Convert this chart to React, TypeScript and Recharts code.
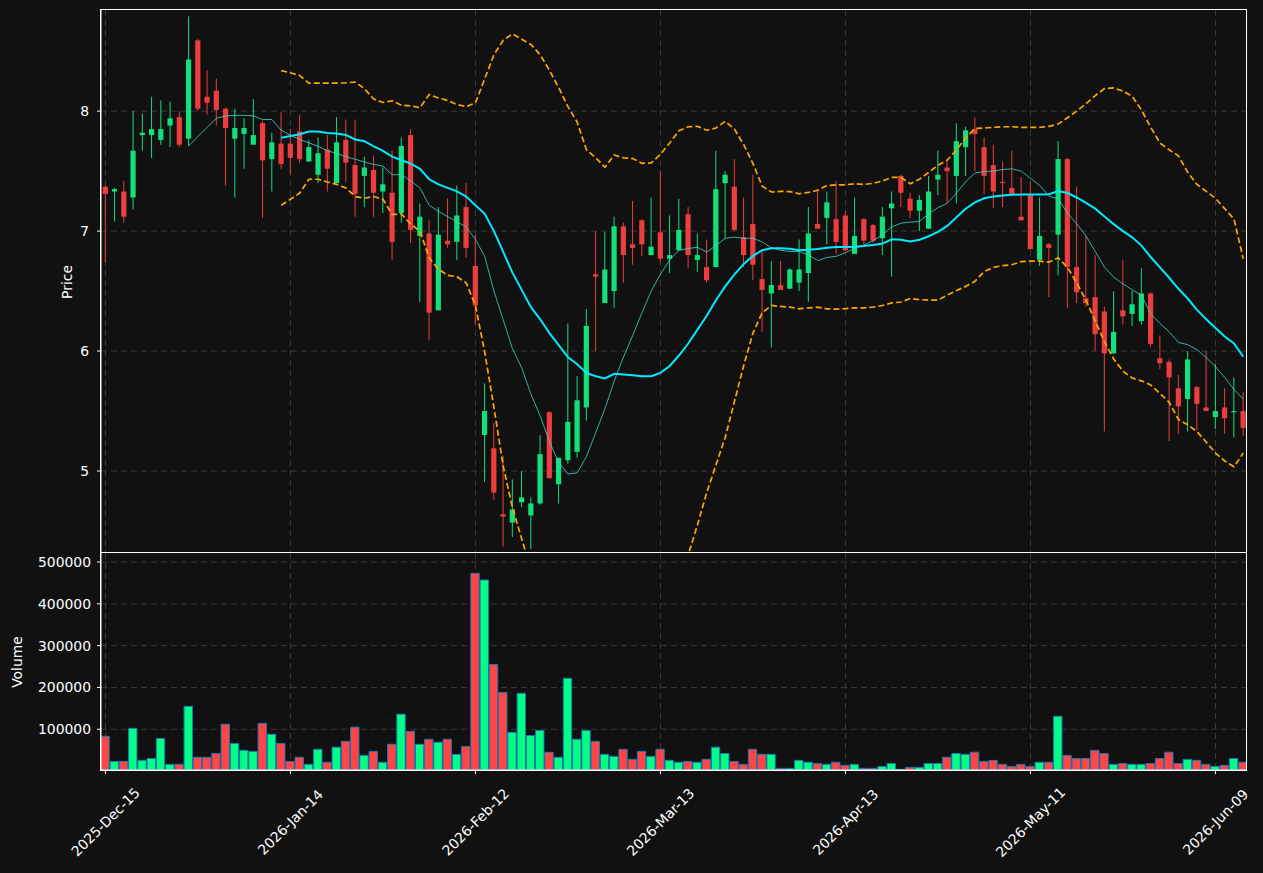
import React from "react";
import { ComposedChart, Bar, Line, XAxis, YAxis, CartesianGrid, Cell } from "recharts";

// x tick positions (trading-day index) and their labels
const tickIdx = [0, 20, 40, 60, 80, 100, 120];
const tickLabels = ["2025-Dec-15", "2026-Jan-14", "2026-Feb-12", "2026-Mar-13", "2026-Apr-13", "2026-May-11", "2026-Jun-09"];
const priceTicks = [5, 6, 7, 8];
const volumeTicks = [100000, 200000, 300000, 400000, 500000];

const opens = [
  7.37, 7.33, 7.33, 7.28, 7.8, 7.8, 7.76, 7.88, 7.95, 7.77,
  8.59, 8.12, 8.17, 8.02, 7.77, 7.81, 7.72, 7.9, 7.6, 7.73,
  7.73, 7.83, 7.58, 7.47, 7.68, 7.4, 7.76, 7.55, 7.46, 7.51,
  7.33, 7.32, 7.15, 7.8, 6.96, 6.98, 6.34, 6.92, 6.91, 7.2,
  6.71, 5.3, 5.19, 4.64, 4.57, 4.74, 4.63, 4.73, 5.49, 4.89,
  5.09, 5.16, 5.53, 6.64, 6.4, 6.5, 7.04, 6.89, 7.09, 6.8,
  6.99, 6.77, 6.84, 7.14, 6.76, 6.7, 6.7, 7.4, 7.37, 6.95,
  7.06, 6.6, 6.48, 6.55, 6.52, 6.57, 6.65, 7.06, 7.11, 7.1,
  7.13, 6.81, 7.1, 7.05, 6.94, 7.19, 7.46, 7.27, 7.17, 7.02,
  7.43, 7.53, 7.46, 7.7, 7.85, 7.7, 7.55, 7.41, 7.36, 7.12,
  7.3, 6.76, 6.89, 6.97, 7.6, 6.7, 6.44, 6.45, 6.33, 5.98,
  6.34, 6.31, 6.25, 6.48, 5.94, 5.91, 5.69, 5.6, 5.7, 5.53,
  5.45, 5.53, 5.49, 5.5,
];
const highs = [
  7.38, 7.36, 7.42, 8.0, 7.98, 8.12, 8.09, 8.08, 8.0, 8.79,
  8.6, 8.34, 8.27, 8.03, 8.02, 7.94, 8.1, 7.92, 7.82, 7.99,
  7.85, 7.97, 7.76, 7.78, 7.8, 7.95, 7.93, 7.93, 7.62, 7.63,
  7.53, 7.67, 7.78, 7.85, 7.23, 7.09, 7.2, 7.27, 7.38, 7.4,
  6.97, 5.73, 5.4, 5.13, 4.93, 5.0, 4.78, 5.3, 5.5, 5.11,
  6.23, 5.79, 6.35, 7.0, 6.99, 7.12, 7.07, 7.25, 7.1, 7.28,
  7.5, 7.13, 7.27, 7.2, 6.98, 6.93, 7.67, 7.5, 7.6, 7.28,
  7.47, 6.83, 6.75, 6.75, 6.69, 6.93, 7.2, 7.35, 7.33, 7.42,
  7.17, 7.28, 7.11, 7.06, 7.2, 7.33, 7.47, 7.32, 7.3, 7.46,
  7.67, 7.6, 7.9, 7.87, 7.95, 7.78, 7.72, 7.58, 7.67, 7.45,
  7.41, 7.28, 6.9, 7.75, 7.61, 7.37, 6.96, 6.8, 6.37, 6.5,
  6.76, 6.5, 6.69, 6.49, 6.13, 5.93, 5.8, 6.0, 5.71, 6.0,
  5.89, 5.69, 5.78, 5.66,
];
const lows = [
  6.74, 7.08, 7.07, 7.18, 7.67, 7.61, 7.72, 7.7, 7.7, 7.71,
  8.0, 7.97, 7.88, 7.38, 7.28, 7.52, 7.72, 7.11, 7.33, 7.52,
  7.47, 7.57, 7.58, 7.4, 7.33, 7.4, 7.41, 7.12, 7.2, 7.12,
  7.15, 6.76, 7.07, 6.9, 6.41, 6.09, 6.34, 6.86, 6.76, 6.78,
  6.22, 4.91, 4.76, 4.37, 4.45, 4.7, 4.35, 4.72, 4.94, 4.73,
  5.06, 5.11, 5.42, 6.0, 6.4, 6.36, 6.57, 6.72, 6.79, 6.8,
  6.74, 6.65, 6.84, 6.69, 6.66, 6.57, 6.7, 6.94, 7.0, 6.7,
  6.59, 6.16, 6.03, 6.51, 6.52, 6.5, 6.41, 7.02, 6.89, 6.81,
  6.84, 6.81, 6.89, 6.9, 6.8, 6.62, 7.2, 7.11, 7.0, 7.02,
  7.3, 7.23, 7.23, 7.46, 7.5, 7.31, 7.19, 7.2, 7.31, 7.09,
  6.85, 6.71, 6.45, 6.63, 6.36, 6.4, 6.37, 6.0, 5.33, 5.98,
  6.22, 6.21, 6.22, 6.03, 5.85, 5.25, 5.31, 5.33, 5.34, 5.5,
  5.35, 5.31, 5.28, 5.29,
];
const closes = [
  7.31, 7.35, 7.12, 7.67, 7.82, 7.85, 7.85, 7.94, 7.72, 8.43,
  8.02, 8.07, 8.01, 7.86, 7.86, 7.86, 7.8, 7.59, 7.74, 7.56,
  7.61, 7.6, 7.7, 7.65, 7.52, 7.74, 7.57, 7.31, 7.53, 7.32,
  7.39, 6.91, 7.71, 7.01, 7.12, 6.32, 6.97, 6.89, 7.13, 6.86,
  6.38, 5.5, 4.82, 4.62, 4.68, 4.78, 4.73, 5.14, 4.94, 5.11,
  5.41, 5.59, 6.21, 6.62, 6.68, 7.04, 6.8, 6.86, 6.89, 6.87,
  6.77, 6.8, 7.01, 6.8, 6.8, 6.59, 7.35, 7.47, 7.01, 6.8,
  6.72, 6.51, 6.55, 6.51, 6.68, 6.68, 6.98, 7.02, 7.24, 6.91,
  6.84, 6.96, 6.92, 6.92, 7.12, 7.23, 7.32, 7.17, 7.26, 7.33,
  7.47, 7.5, 7.75, 7.84, 7.81, 7.46, 7.33, 7.4, 7.31, 7.09,
  6.85, 6.96, 6.86, 7.6, 6.7, 6.49, 6.4, 6.14, 5.98, 6.16,
  6.29, 6.39, 6.48, 6.06, 5.9, 5.78, 5.54, 5.93, 5.56, 5.5,
  5.5, 5.44, 5.5, 5.36,
];
const volumes = [
  83000, 23000, 23000, 102000, 25500, 30000, 78000, 16000, 16000, 155000,
  33000, 33000, 42000, 112000, 66000, 49500, 47000, 114000, 88000, 66000,
  23000, 33000, 16000, 52000, 21000, 57000, 71000, 105000, 37500, 47000,
  21000, 64000, 136000, 95000, 64000, 76000, 69000, 76000, 40000, 59000,
  473000, 457000, 255000, 188000, 92600, 186000, 85000, 97000, 44700, 33000,
  222000, 76000, 97000, 71000, 40000, 35000, 52000, 28000, 47000, 35000,
  52000, 25500, 21000, 23000, 21000, 28000, 57000, 42000, 23000, 16000,
  52000, 40000, 40000, 6400, 6400, 25500, 21000, 18000, 16000, 21000,
  13600, 16000, 6400, 6400, 11000, 18000, 4000, 8800, 8800, 18000,
  18000, 33000, 42000, 40000, 45000, 23000, 25500, 16000, 11000, 16000,
  11000, 21000, 21000, 131000, 37500, 30000, 30000, 49500, 42000, 16000,
  18000, 16000, 16000, 18000, 30000, 45000, 18000, 28000, 25500, 16000,
  11000, 13600, 30000, 21000,
];

// 10-day average (thin line), starts at the 10th session
const ma10: (number | null)[] = [
  null, null, null, null, null, null, null, null, null,
  7.71, 7.79, 7.865, 7.94, 7.96, 7.965, 7.965, 7.96, 7.93, 7.93,
  7.84, 7.8, 7.764, 7.735, 7.706, 7.669, 7.648, 7.62, 7.599, 7.576,
  7.556, 7.542, 7.47, 7.47, 7.418, 7.36, 7.216, 7.164, 7.121, 7.078,
  7.035, 6.93, 6.79, 6.5, 6.26, 6.02, 5.86, 5.64, 5.46, 5.245,
  5.07, 4.975, 4.985, 5.12, 5.32, 5.52, 5.75, 5.95, 6.13, 6.32,
  6.5, 6.64, 6.76, 6.84, 6.855, 6.865, 6.825, 6.88, 6.94, 6.95,
  6.94, 6.94, 6.91, 6.86, 6.84, 6.83, 6.83, 6.8, 6.755, 6.78,
  6.79, 6.82, 6.856, 6.885, 6.92, 6.97, 7.035, 7.066, 7.075, 7.08,
  7.144, 7.196, 7.231, 7.317, 7.412, 7.484, 7.496, 7.5, 7.513, 7.519,
  7.5, 7.44, 7.38, 7.29, 7.27, 7.15, 7.06, 6.96, 6.83, 6.7,
  6.615, 6.56, 6.51, 6.465, 6.31, 6.23, 6.16, 6.072, 6.053, 6.012,
  5.945, 5.87, 5.78, 5.68, 5.6,
];

// 20-day average (thick line) and bollinger bands
const ma20: (number | null)[] = [
  null, null, null, null, null, null, null, null, null, null,
  null, null, null, null, null, null, null, null, null,
  7.778, 7.793, 7.807, 7.83, 7.83, 7.818, 7.813, 7.801, 7.764, 7.749,
  7.706, 7.669, 7.62, 7.591, 7.562, 7.519, 7.432, 7.389, 7.36, 7.331,
  7.288, 7.215, 7.144, 7.0, 6.827, 6.654, 6.51, 6.366, 6.265, 6.15,
  6.049, 5.948, 5.89, 5.818, 5.79, 5.772, 5.81, 5.804, 5.798, 5.79,
  5.79, 5.818, 5.876, 5.963, 6.063, 6.179, 6.294, 6.424, 6.539, 6.64,
  6.726, 6.793, 6.841, 6.856, 6.856, 6.853, 6.841, 6.844, 6.85, 6.862,
  6.867, 6.867, 6.87, 6.876, 6.885, 6.896, 6.931, 6.928, 6.914, 6.928,
  6.957, 6.994, 7.043, 7.115, 7.187, 7.239, 7.274, 7.288, 7.297, 7.303,
  7.305, 7.305, 7.305, 7.308, 7.334, 7.317, 7.28, 7.236, 7.187, 7.121,
  7.058, 7.0, 6.948, 6.879, 6.784, 6.697, 6.611, 6.519, 6.438, 6.343,
  6.265, 6.193, 6.121, 6.063, 5.954,
];
const bbUpper: (number | null)[] = [
  null, null, null, null, null, null, null, null, null, null,
  null, null, null, null, null, null, null, null, null,
  8.337, 8.32, 8.297, 8.233, 8.233, 8.233, 8.233, 8.236, 8.242, 8.187,
  8.101, 8.072, 8.086, 8.049, 8.043, 8.029, 8.138, 8.11, 8.089, 8.055,
  8.037, 8.07, 8.268, 8.47, 8.591, 8.643, 8.599, 8.556, 8.47, 8.34,
  8.196, 8.037, 7.908, 7.677, 7.611, 7.533, 7.634, 7.611, 7.605, 7.565,
  7.568, 7.64, 7.735, 7.836, 7.87, 7.873, 7.841, 7.859, 7.916, 7.85,
  7.72, 7.562, 7.375, 7.326, 7.331, 7.329, 7.311, 7.323, 7.34, 7.38,
  7.386, 7.386, 7.395, 7.389, 7.398, 7.418, 7.447, 7.447, 7.395, 7.432,
  7.49, 7.548, 7.591, 7.677, 7.778, 7.856, 7.859, 7.865, 7.87, 7.87,
  7.865, 7.865, 7.865, 7.873, 7.893, 7.945, 8.0, 8.061, 8.13, 8.187,
  8.193, 8.167, 8.124, 8.009, 7.865, 7.735, 7.677, 7.628, 7.49, 7.389,
  7.331, 7.274, 7.187, 7.101, 6.769,
];
const bbLower: (number | null)[] = [
  null, null, null, null, null, null, null, null, null, null,
  null, null, null, null, null, null, null, null, null,
  7.216, 7.265, 7.317, 7.432, 7.432, 7.409, 7.389, 7.36, 7.288, 7.274,
  7.288, 7.265, 7.138, 7.144, 7.058, 7.0, 6.775, 6.683, 6.631, 6.62,
  6.568, 6.38, 5.991, 5.53, 5.04, 4.694, 4.435, 4.18, 4.06, 3.96,
  3.9, 3.86, 3.87, 3.96, 3.97, 4.01, 3.99, 4.0, 3.99, 4.02,
  4.01, 4.0, 4.02, 4.09, 4.3, 4.55, 4.82, 5.05, 5.28, 5.58,
  5.88, 6.15, 6.32, 6.38, 6.372, 6.366, 6.352, 6.36, 6.366, 6.352,
  6.349, 6.354, 6.36, 6.36, 6.366, 6.38, 6.401, 6.409, 6.438, 6.429,
  6.424, 6.424, 6.467, 6.504, 6.539, 6.582, 6.663, 6.697, 6.712, 6.72,
  6.746, 6.749, 6.749, 6.741, 6.778, 6.697, 6.568, 6.424, 6.251, 6.078,
  5.934, 5.833, 5.775, 5.752, 5.718, 5.646, 5.573, 5.429, 5.386, 5.329,
  5.242, 5.15, 5.084, 5.035, 5.15,
];

const BG = "#111111";
const GRID = "#3a3a3a";
const UP = "#12e07a";
const DOWN = "#ec3e3e";
const VOL_UP = "#00ff84";
const VOL_DOWN = "#ff4545";
const FONT = "DejaVu Sans, sans-serif";
const FS = 13.9;

const rows = opens.map((o, i) => ({
  i,
  open: o,
  high: highs[i],
  low: lows[i],
  close: closes[i],
  volume: volumes[i],
  ma10: ma10[i],
  ma20: ma20[i],
  upper: bbUpper[i],
  lower: bbLower[i],
}));

const X_DOMAIN: [number, number] = [-0.48, 123.3];

const Candle = (props: any) => {
  const { x, y, width, height, payload } = props;
  const { open, close, high, low } = payload;
  const cx = x + width / 2;
  const span = high - low || 1;
  const py = (v: number) => y + ((high - v) / span) * height;
  const color = close >= open ? UP : DOWN;
  const top = py(Math.max(open, close));
  const bot = py(Math.min(open, close));
  return (
    <g>
      <line x1={cx} x2={cx} y1={y} y2={y + height} stroke={color} strokeWidth={1} />
      <rect x={cx - 2.6} y={top} width={5.2} height={Math.max(bot - top, 1)} fill={color} />
    </g>
  );
};

const DateTick = (props: any) => {
  const { x, y, payload } = props;
  const label = tickLabels[tickIdx.indexOf(payload.value)] ?? "";
  const cy = y + 46;
  return (
    <text
      x={x}
      y={cy}
      transform={`rotate(-45, ${x}, ${cy})`}
      textAnchor="middle"
      dominantBaseline="central"
      fill="#ffffff"
      fontSize={FS}
      fontFamily={FONT}
    >
      {label}
    </text>
  );
};

const yTick = { fill: "#ffffff", fontSize: FS, fontFamily: FONT };
const whiteLine = { stroke: "#ffffff" };

export default function App() {
  return (
    <div
      style={{
        position: "fixed",
        left: 0,
        top: 0,
        width: 1263,
        height: 873,
        background: BG,
        overflow: "hidden",
        fontFamily: FONT,
      }}
    >
      <div style={{ position: "absolute", left: 0, top: 0 }}>
        <ComposedChart width={1263} height={552} data={rows} margin={{ top: 10, right: 17, bottom: 0, left: 0 }}>
          <CartesianGrid
            stroke={GRID}
            strokeDasharray="6 4"
            verticalValues={tickIdx}
            horizontalValues={priceTicks}
          />
          <XAxis dataKey="i" type="number" domain={X_DOMAIN} ticks={tickIdx} allowDataOverflow hide />
          <YAxis
            type="number"
            domain={[4.325, 8.843]}
            ticks={priceTicks}
            allowDataOverflow
            width={101}
            tick={yTick}
            tickLine={whiteLine}
            axisLine={whiteLine}
            tickSize={4}
            tickMargin={8}
          />
          <Bar dataKey={(d: any) => [d.low, d.high]} barSize={5} shape={<Candle />} isAnimationActive={false} />
          <Line dataKey="ma10" stroke="#3fd6cc" strokeOpacity={0.8} strokeWidth={1} dot={false} isAnimationActive={false} />
          <Line dataKey="ma20" stroke="#00eaff" strokeWidth={2} dot={false} isAnimationActive={false} />
          <Line dataKey="upper" stroke="#ffa500" strokeWidth={1.7} strokeDasharray="6 3" dot={false} isAnimationActive={false} />
          <Line dataKey="lower" stroke="#ffa500" strokeWidth={1.7} strokeDasharray="6 3" dot={false} isAnimationActive={false} />
        </ComposedChart>
      </div>

      <div style={{ position: "absolute", left: 0, top: 540 }}>
        <ComposedChart width={1263} height={333} data={rows} margin={{ top: 13, right: 17, bottom: 0, left: 0 }}>
          <CartesianGrid
            stroke={GRID}
            strokeDasharray="6 4"
            verticalValues={tickIdx}
            horizontalValues={volumeTicks}
          />
          <XAxis
            dataKey="i"
            type="number"
            domain={X_DOMAIN}
            allowDataOverflow
            ticks={tickIdx}
            interval={0}
            height={103}
            tick={<DateTick />}
            tickLine={whiteLine}
            axisLine={whiteLine}
            tickSize={4}
          />
          <YAxis
            type="number"
            domain={[2500, 521600]}
            ticks={volumeTicks}
            allowDataOverflow
            width={101}
            tick={yTick}
            tickLine={whiteLine}
            axisLine={whiteLine}
            tickSize={4}
            tickMargin={6}
          />
          <Bar dataKey="volume" barSize={8.4} stroke="#1f77b4" strokeWidth={1} isAnimationActive={false}>
            {rows.map((r) => (
              <Cell key={r.i} fill={r.close >= r.open ? VOL_UP : VOL_DOWN} />
            ))}
          </Bar>
        </ComposedChart>
      </div>

      {/* panel frames */}
      <div
        style={{
          position: "absolute",
          left: 100,
          top: 9,
          width: 1147,
          height: 544,
          border: "1px solid #ffffff",
          boxSizing: "border-box",
          pointerEvents: "none",
        }}
      />
      <div
        style={{
          position: "absolute",
          left: 100,
          top: 552,
          width: 1147,
          height: 219,
          border: "1px solid #ffffff",
          boxSizing: "border-box",
          pointerEvents: "none",
        }}
      />

      <div
        style={{
          position: "absolute",
          left: 67,
          top: 282,
          transform: "translate(-50%, -50%) rotate(-90deg)",
          color: "#ffffff",
          fontSize: FS,
          whiteSpace: "nowrap",
        }}
      >
        Price
      </div>
      <div
        style={{
          position: "absolute",
          left: 17,
          top: 662,
          transform: "translate(-50%, -50%) rotate(-90deg)",
          color: "#ffffff",
          fontSize: FS,
          whiteSpace: "nowrap",
        }}
      >
        Volume
      </div>
    </div>
  );
}
